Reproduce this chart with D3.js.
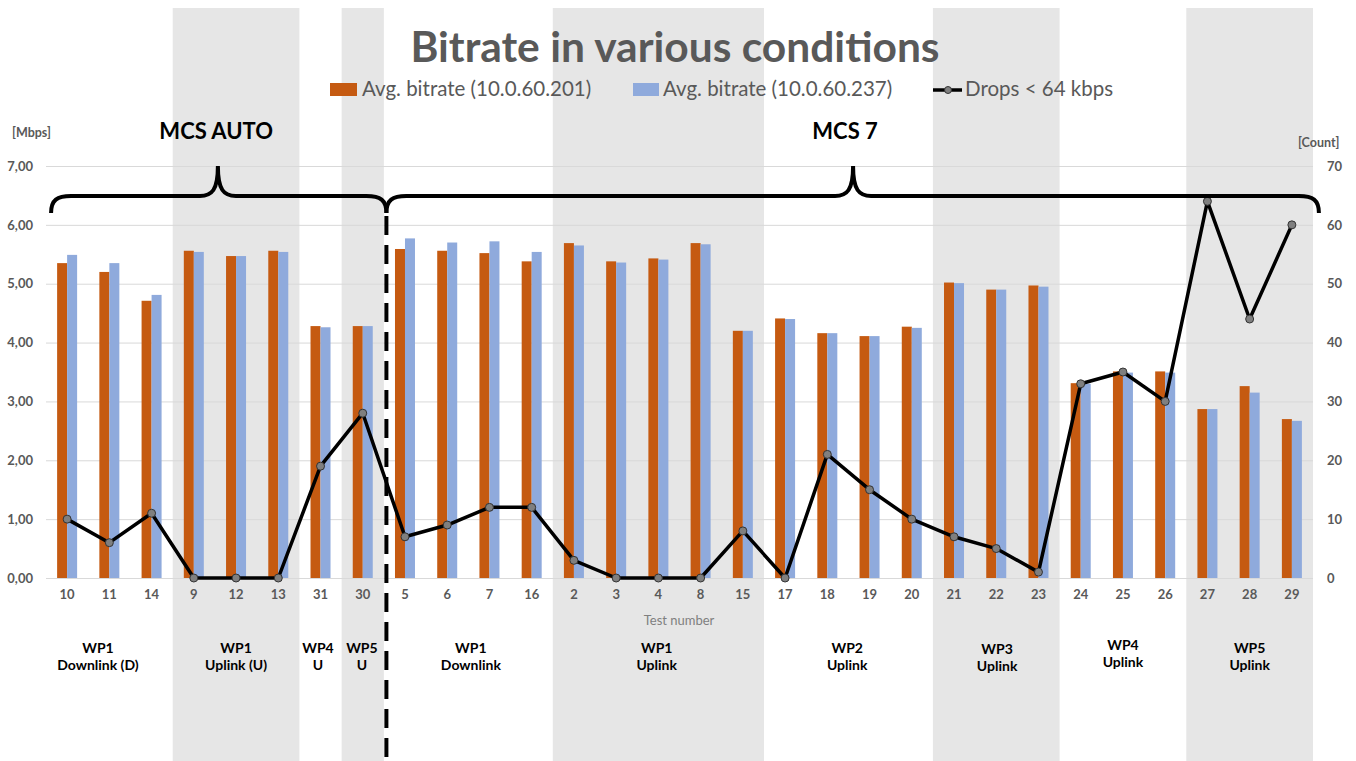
<!DOCTYPE html>
<html><head><meta charset="utf-8">
<script src="https://cdn.jsdelivr.net/npm/d3@7"></script>
<style>
body{margin:0;background:#fff}
svg{display:block}
text{font-family:Lato,"Open Sans",sans-serif}
</style>
</head><body>
<svg id="c" width="1356" height="761"></svg>
<script>
// ---------- data ----------
const tests = ["10","11","14","9","12","13","31","30","5","6","7","16","2","3","4","8","15","17","18","19","20","21","22","23","24","25","26","27","28","29"];
const bitrate201 = [5.35,5.20,4.71,5.56,5.47,5.56,4.28,4.28,5.59,5.56,5.52,5.38,5.69,5.38,5.43,5.69,4.20,4.41,4.16,4.11,4.27,5.02,4.90,4.97,3.31,3.51,3.51,2.87,3.26,2.70];
const bitrate237 = [5.49,5.35,4.81,5.54,5.47,5.54,4.26,4.28,5.77,5.70,5.72,5.54,5.65,5.36,5.41,5.67,4.20,4.40,4.16,4.11,4.25,5.01,4.90,4.95,3.30,3.49,3.49,2.87,3.15,2.67];
const drops = [10,6,11,0,0,0,19,28,7,9,12,12,3,0,0,0,8,0,21,15,10,7,5,1,33,35,30,64,44,60];
const leftTicks = [0,1,2,3,4,5,6,7];
const rightTicks = [0,10,20,30,40,50,60,70];
const seriesNames = ["Avg. bitrate (10.0.60.201)","Avg. bitrate (10.0.60.237)","Drops < 64 kbps"];
// shaded groups: first/last category index
const shadeFrom = [3,7,12,21,27];
const shadeTo   = [5,7,16,23,29];
// group labels (position in category units from left edge)
const groupTop = ["WP1","WP1","WP4","WP5","WP1","WP1","WP2","WP3","WP4","WP5"];
const groupBottom = ["Downlink (D)","Uplink (U)","U","U","Downlink","Uplink","Uplink","Uplink","Uplink","Uplink"];
const groupPos = [1.23,4.50,6.44,7.48,10.06,14.46,18.97,22.52,25.50,28.50];
const groupDy = [0,0,0,0,0,0,0,1,-3,0];
// braces (category units): start, peak, end
const braceLabels = ["MCS AUTO","MCS 7"];
const braceStart = [0.12,8.06];
const bracePeak = [4.07,19.11];
const braceEnd = [8.06,30.14];
const braceLabelPos = [4.03,18.92];

// ---------- setup ----------
const W=1356,H=761;
const svg=d3.select("#c");
const pLeft=46,pRight=1313,pTop=166,pBottom=578;
const x=d3.scaleBand().domain(tests).range([pLeft,pRight]).padding(0);
const step=x.step();
const u=v=>pLeft+v*step;
const y=d3.scaleLinear().domain([0,7]).range([pBottom,pTop]);
const yR=d3.scaleLinear().domain([0,70]).range([pBottom,pTop]);
const xs=d3.scaleBand().domain(["a","b"]).range([step/2-10,step/2+10]).padding(0);
const orange="#c55a11",blue="#8faadc",gray="#595959";

// shaded bands
svg.append("g").selectAll("rect").data(shadeFrom).join("rect")
  .attr("x",(d)=>x(tests[d]))
  .attr("width",(d,i)=>x(tests[shadeTo[i]])+step-x(tests[d]))
  .attr("y",8).attr("height",H-8).attr("fill","#e6e6e6");

// gridlines
svg.append("g").selectAll("line").data(leftTicks).join("line")
  .attr("x1",pLeft).attr("x2",pRight).attr("y1",d=>y(d)+0.5).attr("y2",d=>y(d)+0.5)
  .attr("stroke","#d9d9d9").attr("stroke-width",1);

// left axis labels
const fmt=d=>d3.format(".2f")(d).replace(".",",");
const yAxisL=d3.axisLeft(y).tickValues(leftTicks).tickFormat(fmt).tickSize(0).tickPadding(0);
const gL=svg.append("g").attr("transform","translate(33,0)").call(yAxisL);
gL.select(".domain").remove();
gL.selectAll("text").attr("font-size",13).attr("font-weight","bold").attr("fill",gray).style("font-family","Lato");
const yAxisR=d3.axisRight(yR).tickValues(rightTicks).tickSize(0).tickPadding(0);
const gR=svg.append("g").attr("transform","translate(1327,0)").call(yAxisR);
gR.select(".domain").remove();
gR.selectAll("text").attr("font-size",13).attr("font-weight","bold").attr("fill",gray).style("font-family","Lato");

// x axis labels
const xAxis=d3.axisBottom(x).tickSize(0).tickPadding(0);
const gX=svg.append("g").attr("transform","translate(0,590)").call(xAxis);
gX.select(".domain").remove();
gX.selectAll("text").attr("font-size",13).attr("font-weight","bold").attr("fill",gray).style("font-family","Lato");

// bars
const bars=svg.append("g");
bars.selectAll("rect.o").data(bitrate201).join("rect").attr("class","o")
  .attr("x",(d,i)=>x(tests[i])+xs("a")).attr("width",xs.bandwidth())
  .attr("y",d=>y(d)).attr("height",d=>y(0)-y(d)).attr("fill",orange);
bars.selectAll("rect.b").data(bitrate237).join("rect").attr("class","b")
  .attr("x",(d,i)=>x(tests[i])+xs("b")).attr("width",xs.bandwidth())
  .attr("y",d=>y(d)).attr("height",d=>y(0)-y(d)).attr("fill",blue);

// drops line
const cx=i=>x(tests[i])+step/2;
svg.append("path").datum(drops)
  .attr("d",d3.line().x((d,i)=>cx(i)).y(d=>yR(d)))
  .attr("fill","none").attr("stroke","#000").attr("stroke-width",3.5).attr("stroke-linejoin","round");
svg.append("g").selectAll("circle").data(drops).join("circle")
  .attr("cx",(d,i)=>cx(i)).attr("cy",d=>yR(d)).attr("r",4)
  .attr("fill","#7f7f7f").attr("stroke","#333").attr("stroke-width",1);

// braces
function brace(xa,xm,xb){
  const yE=213,yB=196,yP=166,r=20,q=18;
  return `M${xa},${yE} C${xa},${yB+4} ${xa+6},${yB} ${xa+r},${yB} L${xm-q},${yB} C${xm-6},${yB} ${xm},${yB-6} ${xm},${yP} C${xm},${yB-6} ${xm+6},${yB} ${xm+q},${yB} L${xb-r},${yB} C${xb-6},${yB} ${xb},${yB+4} ${xb},${yE}`;
}
svg.append("g").selectAll("path").data(braceStart).join("path")
  .attr("d",(d,i)=>brace(u(d),u(bracePeak[i]),u(braceEnd[i])))
  .attr("fill","none").attr("stroke","#000").attr("stroke-width",4);
svg.append("g").selectAll("text").data(braceLabels).join("text")
  .attr("x",(d,i)=>u(braceLabelPos[i])).attr("y",139).attr("text-anchor","middle")
  .attr("font-size",22).attr("font-weight","bold").attr("fill","#000").text(d=>d);

// dashed divider
svg.append("line").attr("x1",u(braceEnd[0])).attr("x2",u(braceEnd[0])).attr("y1",216).attr("y2",H)
  .attr("stroke","#000").attr("stroke-width",4).attr("stroke-dasharray","19,10");

// group labels
const gl=svg.append("g").selectAll("g").data(groupTop).join("g")
  .attr("transform",(d,i)=>`translate(${u(groupPos[i])},${653+groupDy[i]})`);
gl.append("text").attr("text-anchor","middle").attr("font-size",14).attr("font-weight","bold").attr("fill","#000").text(d=>d);
gl.append("text").attr("text-anchor","middle").attr("y",17).attr("font-size",14).attr("font-weight","bold").attr("fill","#000").text((d,i)=>groupBottom[i]);

// axis titles
svg.append("text").attr("x",679).attr("y",625).attr("text-anchor","middle").attr("font-size",13).attr("fill","#7f7f7f").text("Test number");
svg.append("text").attr("x",12).attr("y",137).attr("font-size",12.5).attr("font-weight","bold").attr("fill",gray).text("[Mbps]");
svg.append("text").attr("x",1298).attr("y",147).attr("font-size",12.5).attr("font-weight","bold").attr("fill",gray).text("[Count]");

// title
svg.append("text").attr("x",675).attr("y",62).attr("text-anchor","middle")
  .attr("font-size",42.5).attr("font-weight","bold").attr("fill",gray).text("Bitrate in various conditions");

// legend
const lg=svg.append("g");
lg.append("rect").attr("x",330).attr("y",83).attr("width",27).attr("height",13).attr("fill",orange);
lg.append("text").attr("x",362).attr("y",96).attr("font-size",20.5).attr("fill",gray).text(seriesNames[0]);
lg.append("rect").attr("x",633).attr("y",83).attr("width",26).attr("height",13).attr("fill",blue);
lg.append("text").attr("x",663).attr("y",96).attr("font-size",20.5).attr("fill",gray).text(seriesNames[1]);
lg.append("line").attr("x1",933).attr("x2",962).attr("y1",90).attr("y2",90).attr("stroke","#000").attr("stroke-width",3.5);
lg.append("circle").attr("cx",948).attr("cy",90).attr("r",3.5).attr("fill","#7f7f7f").attr("stroke","#333");
lg.append("text").attr("x",965).attr("y",96).attr("font-size",20.5).attr("fill",gray).text(seriesNames[2]);
</script>
</body></html>
